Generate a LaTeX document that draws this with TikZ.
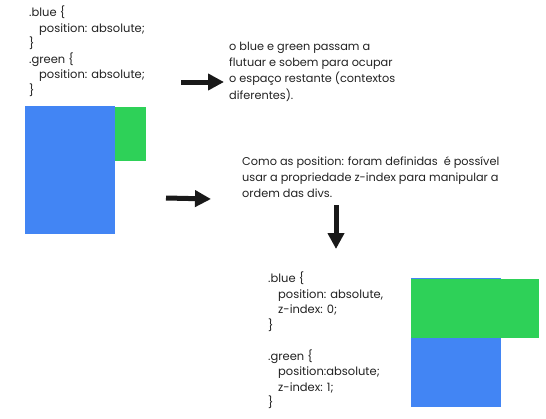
\documentclass[tikz,border=0pt]{standalone}
\usepackage{fontspec}
\setmainfont{Poppins}
\usetikzlibrary{arrows.meta}
\definecolor{boxblue}{RGB}{66,133,244}
\definecolor{boxgreen}{RGB}{46,209,88}
\definecolor{ink}{RGB}{34,34,34}
\tikzset{
  codetxt/.style={anchor=north west, inner sep=0pt, align=left, text=ink,
    font=\fontsize{11.5}{15.5}\selectfont},
  notetxt/.style={anchor=north west, inner sep=0pt, align=left, text=ink,
    font=\fontsize{11.3}{16.2}\selectfont},
  bigarrow/.style={line width=5pt, draw=black!90,
    -{Triangle[length=16pt,width=16pt]}},
}
\begin{document}
\begin{tikzpicture}[x=1pt,y=-1pt]
\useasboundingbox (0,0) rectangle (546,418);
% first code block
\node[codetxt] (code1) at (29,6) {.blue \{\\\hspace*{10pt}position: absolute;\\\}\\.green \{\\\hspace*{10pt}position: absolute;\\\}};
% first boxes
\fill[boxgreen] (100,107) rectangle (146,161);
\fill[boxblue] (25,106) rectangle (115,234);
% note 1
\node[notetxt] (note1) at (229,42) {o blue e green passam a\\flutuar e sobem para ocupar\\o espaço restante (contextos\\diferentes).};
\coordinate (a1s) at (181,82);
\coordinate (a1e) at (224,82);
\draw[bigarrow] (a1s) -- (a1e);
% note 2
\node[notetxt] (note2) at (242,156) {Como as position: foram definidas\ \ é possível\\usar a propriedade z-index para manipular a\\ordem das divs.};
\coordinate (a2s) at (166,198);
\coordinate (a2e) at (211,199);
\draw[bigarrow] (a2s) -- (a2e);
\coordinate (a3s) at (336,205);
\coordinate (a3e) at (336,249);
\draw[bigarrow] (a3s) -- (a3e);
% second code block
\node[codetxt] (code2) at (268,272) {.blue \{\\\hspace*{10pt}position: absolute,\\\hspace*{10pt}z-index: 0;\\\}\\[15.5pt].green \{\\\hspace*{10pt}position:absolute;\\\hspace*{10pt}z-index: 1;\\\}};
% second boxes
\fill[boxblue] (411,278) rectangle (501,407);
\fill[boxgreen] (411,279) rectangle (539,338);
\end{tikzpicture}
\end{document}
